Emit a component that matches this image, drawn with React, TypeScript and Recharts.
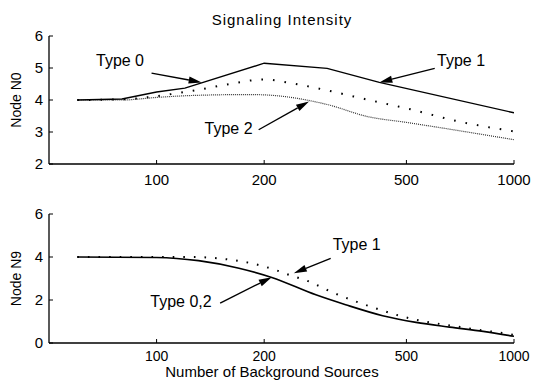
import React from "react";
import { LineChart, Line, XAxis, YAxis, ReferenceLine, ReferenceDot } from "recharts";

const FONT = '"Liberation Sans", Arial, Helvetica, sans-serif';

const xTicks = [100, 200, 500, 1000];
const n0Ticks = [2, 3, 4, 5, 6];
const n9Ticks = [0, 2, 4, 6];

// Node N0
const n0Type1X = [60, 80, 100, 120, 200, 300, 420, 1000];
const n0Type1Y = [4.0, 4.03, 4.25, 4.37, 5.15, 4.99, 4.55, 3.6];
const n0Type0X = [60, 80, 100, 120, 140, 160, 200, 240, 300, 400, 500, 700, 1000];
const n0Type0Y = [4.0, 4.02, 4.12, 4.25, 4.38, 4.5, 4.64, 4.52, 4.3, 3.98, 3.74, 3.33, 3.02];
const n0Type2X = [60, 80, 100, 125, 180, 200, 300, 390, 500, 1000];
const n0Type2Y = [4.0, 4.0, 4.08, 4.14, 4.17, 4.16, 3.86, 3.48, 3.3, 2.76];

// Node N9
const n9Type02X = [60, 100, 131, 170, 210, 279, 338, 429, 532, 661, 820, 1000];
const n9Type02Y = [4.0, 3.98, 3.83, 3.48, 3.05, 2.24, 1.78, 1.27, 0.96, 0.74, 0.54, 0.31];
const n9Type1X = [60, 100, 125, 156, 185, 213, 232, 267, 309, 357, 414, 478, 562, 661, 767, 902, 1000];
const n9Type1Y = [4.0, 4.0, 4.0, 3.9, 3.7, 3.42, 3.2, 2.86, 2.37, 1.96, 1.59, 1.27, 1.0, 0.82, 0.65, 0.49, 0.38];

const zip = (xs: number[], ys: number[]) => xs.map((x, i) => ({ x, y: ys[i] }));

// annotation: text anchor and arrow (start -> tip), in data units
const n0Notes = [
  { text: "Type 0", tx: 79, ty: 5.22, from: [96.8, 4.84], to: [133.7, 4.55] },
  { text: "Type 1", tx: 711, ty: 5.22, from: [600, 4.99], to: [420, 4.55] },
  { text: "Type 2", tx: 159, ty: 3.12, from: [193, 3.07], to: [267, 3.95] },
];
const n9Notes = [
  { text: "Type 1", tx: 363, ty: 4.56, from: [307, 3.94], to: [242, 3.25] },
  { text: "Type 0,2", tx: 117, ty: 1.93, from: [150.6, 1.86], to: [210, 3.06] },
];

const arrowShape = (p: any) => {
  const { x1, y1, x2, y2 } = p;
  const dx = x2 - x1;
  const dy = y2 - y1;
  const len = Math.hypot(dx, dy) || 1;
  const ux = dx / len;
  const uy = dy / len;
  const L = 13;
  const W = 3.6;
  const bx = x2 - ux * L;
  const by = y2 - uy * L;
  const pts = `${x2},${y2} ${bx - uy * W},${by + ux * W} ${bx + uy * W},${by - ux * W}`;
  return (
    <g>
      <line x1={x1} y1={y1} x2={bx} y2={by} stroke="#000" strokeWidth={1.4} />
      <polygon points={pts} fill="#000" />
    </g>
  );
};

const textShape = (text: string) => (p: any) => (
  <text x={p.cx} y={p.cy} textAnchor="middle" dominantBaseline="central" fontSize={16} fontFamily={FONT} fill="#000">
    {text}
  </text>
);

const yLabel = (text: string) => (p: any) => {
  const vb = p.viewBox || {};
  const cx = 15.5;
  const cy = vb.y + vb.height / 2;
  return (
    <text x={cx} y={cy} transform={`rotate(-90, ${cx}, ${cy})`} textAnchor="middle" dominantBaseline="central" fontSize={14} fontFamily={FONT} fill="#000">
      {text}
    </text>
  );
};

const axisLine = { stroke: "#000", strokeWidth: 1.3 };
const tickLine = { stroke: "#000", strokeWidth: 1 };

function Panel({ height, top, bottom, yDomain, yTicks, yName, notes, children, xLabel }: any) {
  const xTickStyle = { fontSize: xLabel ? 14 : 15, fill: "#000", fontFamily: FONT };
  return (
    <LineChart width={534} height={height} margin={{ top, right: 20, bottom, left: 0 }}>
      <XAxis
        dataKey="x"
        type="number"
        scale="log"
        domain={[50, 1000]}
        ticks={xTicks}
        allowDataOverflow
        height={xLabel ? 38 : 20}
        tickSize={-4}
        tickMargin={xLabel ? 12 : 14}
        tick={xTickStyle}
        axisLine={axisLine}
        tickLine={tickLine}
        label={xLabel ? { content: (p: any) => (
          <text x={272} y={(p.viewBox?.y ?? 0) + (p.viewBox?.height ?? 0) - 4} textAnchor="middle" fontSize={15} fontFamily={FONT} fill="#000">
            {xLabel}
          </text>
        ) } : undefined}
      />
      <XAxis
        xAxisId="top"
        orientation="top"
        type="number"
        scale="log"
        domain={[50, 1000]}
        ticks={xTicks}
        allowDataOverflow
        height={0}
        tickSize={-4}
        tick={false}
        axisLine={axisLine}
        tickLine={tickLine}
      />
      <YAxis
        type="number"
        domain={yDomain}
        ticks={yTicks}
        allowDataOverflow
        width={49}
        tickSize={-4}
        tickMargin={10}
        tick={{ fontSize: 15, fill: "#000", fontFamily: FONT }}
        axisLine={axisLine}
        tickLine={tickLine}
        label={{ content: yLabel(yName) }}
      />
      <YAxis
        yAxisId="right"
        orientation="right"
        type="number"
        domain={yDomain}
        ticks={yTicks}
        allowDataOverflow
        width={0}
        tickSize={-4}
        tick={false}
        axisLine={axisLine}
        tickLine={tickLine}
      />
      {children}
      {notes.map((n: any, i: number) => (
        <ReferenceLine
          key={"a" + i}
          segment={[{ x: n.from[0], y: n.from[1] }, { x: n.to[0], y: n.to[1] }]}
          ifOverflow="visible"
          shape={arrowShape}
        />
      ))}
      {notes.map((n: any, i: number) => (
        <ReferenceDot key={"t" + i} x={n.tx} y={n.ty} r={0} ifOverflow="visible" shape={textShape(n.text)} />
      ))}
    </LineChart>
  );
}

export default function App() {
  return (
    <div style={{ position: "absolute", left: 0, top: 0, width: 534, height: 381, background: "#fff", fontFamily: FONT }}>
      <div style={{ position: "absolute", left: 0, top: 11, width: 564, textAlign: "center", fontSize: 15, letterSpacing: 1, color: "#000" }}>
        Signaling Intensity
      </div>
      <div style={{ position: "absolute", left: 0, top: 0 }}>
        <Panel height={200} top={36} bottom={16} yDomain={[2, 6]} yTicks={n0Ticks} yName="Node N0" notes={n0Notes}>
          <Line data={zip(n0Type2X, n0Type2Y)} dataKey="y" type="monotone" stroke="#333" strokeWidth={1.2} strokeDasharray="1 1" dot={false} isAnimationActive={false} />
          <Line data={zip(n0Type0X, n0Type0Y)} dataKey="y" type="monotone" stroke="#000" strokeWidth={2} strokeDasharray="1.6 10" dot={false} isAnimationActive={false} />
          <Line data={zip(n0Type1X, n0Type1Y)} dataKey="y" type="linear" stroke="#000" strokeWidth={1.4} dot={false} isAnimationActive={false} />
        </Panel>
      </div>
      <div style={{ position: "absolute", left: 0, top: 190 }}>
        <Panel height={191} top={24} bottom={0} yDomain={[0, 6]} yTicks={n9Ticks} yName="Node N9" notes={n9Notes} xLabel="Number of Background Sources">
          <Line data={zip(n9Type1X, n9Type1Y)} dataKey="y" type="monotone" stroke="#000" strokeWidth={2} strokeDasharray="1.6 9" dot={false} isAnimationActive={false} />
          <Line data={zip(n9Type02X, n9Type02Y)} dataKey="y" type="monotone" stroke="#000" strokeWidth={1.6} dot={false} isAnimationActive={false} />
        </Panel>
      </div>
    </div>
  );
}
